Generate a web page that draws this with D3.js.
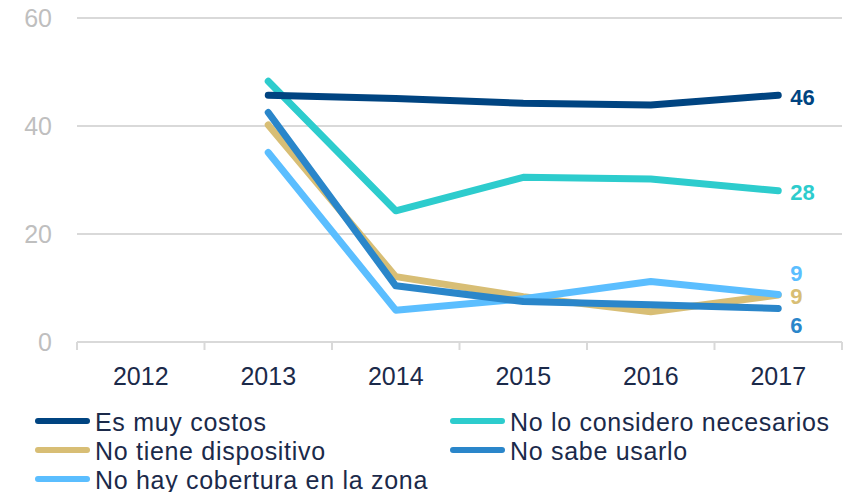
<!DOCTYPE html>
<html><head><meta charset="utf-8">
<script src="https://cdn.jsdelivr.net/npm/d3@7"></script>
<style>
body{margin:0;background:#fff;}
svg{display:block;font-family:"Liberation Sans",Arial,sans-serif;}
</style></head>
<body><svg id="c" width="845" height="492"></svg>
<script>
const years = ["2012","2013","2014","2015","2016","2017"];
const yTicks = [0,20,40,60];
const seriesNames = ["Es muy costos","No lo considero necesarios","No tiene dispositivo","No sabe usarlo","No hay cobertura en la zona"];
const seriesColors = ["#004481","#2dcccd","#d8be75","#2a86ca","#5bbeff"];
const esMuyCostos = [null,45.7,45.1,44.2,43.9,45.7];
const noLoConsidero = [null,48.3,24.3,30.5,30.2,28.0];
const noTieneDispositivo = [null,40.2,12.1,8.4,5.6,8.7];
const noSabeUsarlo = [null,42.5,10.4,7.5,6.9,6.2];
const noHayCobertura = [null,35.1,5.9,8.0,11.2,8.8];
const endLabels = ["46","28","9","6","9"];
const seriesValues = [esMuyCostos,noLoConsidero,noTieneDispositivo,noSabeUsarlo,noHayCobertura];

const svg = d3.select("#c");
const pLeft=77, pRight=842, pTop=18, pBottom=342;
const x = d3.scaleBand().domain(years).range([pLeft,pRight]);
const y = d3.scaleLinear().domain([0,60]).range([pBottom,pTop]);

// gridlines
svg.append("g").selectAll("line").data(yTicks.filter(d=>d>0)).join("line")
  .attr("x1",pLeft).attr("x2",pRight).attr("y1",d=>y(d)).attr("y2",d=>y(d))
  .attr("stroke","#d9d9d9").attr("stroke-width",2);

// y labels
svg.append("g").selectAll("text").data(yTicks).join("text")
  .attr("x",52).attr("y",d=>y(d)).attr("dy","0.35em").attr("text-anchor","end")
  .attr("font-size",25).attr("fill","#bfbfbf").text(d=>d);

// x axis
const xa = svg.append("g").attr("transform",`translate(0,${pBottom})`)
  .call(d3.axisBottom(x).tickSize(0).tickPadding(0));
xa.select(".domain").attr("stroke","#d9d9d9").attr("stroke-width",2)
  .attr("d",`M${pLeft},0H${pRight}`);
xa.selectAll(".tick text").remove();
const bounds = years.map(d=>x(d)).concat([pRight]);
svg.append("g").selectAll("line").data(bounds).join("line")
  .attr("x1",d=>d).attr("x2",d=>d).attr("y1",pBottom).attr("y2",pBottom+8)
  .attr("stroke","#d9d9d9").attr("stroke-width",2);
svg.append("g").selectAll("text").data(years).join("text")
  .attr("x",d=>x(d)+x.bandwidth()/2).attr("y",385).attr("text-anchor","middle")
  .attr("font-size",25).attr("fill","#1b2a4a").text(d=>d);

// lines
const line = d3.line().defined(d=>d.v!=null)
  .x(d=>x(d.yr)+x.bandwidth()/2).y(d=>y(d.v));
const order=[2,4,3,1,0];
order.forEach(i=>{
  const pts = years.map((yr,j)=>({yr,v:seriesValues[i][j]}));
  svg.append("path").datum(pts).attr("d",line).attr("fill","none")
    .attr("stroke",seriesColors[i]).attr("stroke-width",7)
    .attr("stroke-linecap","round").attr("stroke-linejoin","round");
});

// end labels
const lblVals=[esMuyCostos[5],noLoConsidero[5],noTieneDispositivo[5],noSabeUsarlo[5],noHayCobertura[5]];
const offsets=[2,1,1,17,-21];
svg.append("g").selectAll("text").data(seriesNames).join("text")
  .attr("x",x("2017")+x.bandwidth()/2+12)
  .attr("y",(d,i)=>y(lblVals[i])+offsets[i]).attr("dy","0.35em")
  .attr("font-size",22).attr("font-weight","bold")
  .attr("fill",(d,i)=>seriesColors[i]).text((d,i)=>endLabels[i]);

// legend
const legPos = [[35,421],[450,421],[35,450],[450,450],[35,479]];
const lg = svg.append("g").selectAll("g").data(seriesNames).join("g")
  .attr("transform",(d,i)=>`translate(${legPos[i][0]},${legPos[i][1]})`);
lg.append("line").attr("x1",3).attr("x2",52).attr("y1",0).attr("y2",0)
  .attr("stroke",(d,i)=>seriesColors[i]).attr("stroke-width",6).attr("stroke-linecap","round");
lg.append("text").attr("x",60).attr("y",10).attr("font-size",25)
  .attr("letter-spacing",0.7).attr("fill","#1b2a4a").text(d=>d);
</script></body></html>
